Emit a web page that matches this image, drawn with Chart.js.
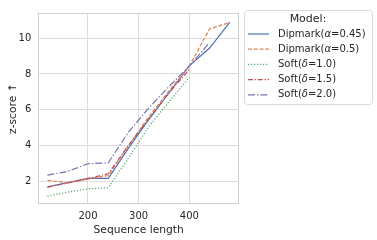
<!DOCTYPE html>
<html>
<head>
<meta charset="utf-8">
<script src="https://cdn.jsdelivr.net/npm/chart.js@4.4.1/dist/chart.umd.min.js"></script>
<style>
  body { margin: 0; background: #fff; }
  #wrap { width: 377px; height: 240px; }
</style>
</head>
<body>
<div id="wrap"><canvas id="chart1" width="377" height="240"></canvas></div>
<script>
// valores
const seqLength = [120, 160, 200, 240, 280, 320, 360, 400, 440, 480];
const dipmark045 = [1.69, 1.92, 2.16, 2.16, 3.85, 5.45, 6.95, 8.45, 9.45, 10.9];
const dipmark05 = [2.05, 1.92, 2.13, 2.32, 4.0, 5.6, 7.05, 8.45, 10.52, 10.88];
const soft10 = [1.17, 1.39, 1.57, 1.64, 3.3, 5.05, 6.45, 7.8];
const soft15 = [1.66, 1.9, 2.15, 2.42, 4.0, 5.5, 6.95, 8.25];
const soft20 = [2.34, 2.55, 2.98, 3.03, 4.75, 6.1, 7.3, 8.45, 9.75];
const seriesNames = ["Dipmark(α=0.45)", "Dipmark(α=0.5)", "Soft(δ=1.0)", "Soft(δ=1.5)", "Soft(δ=2.0)"];
const xTicks = [200, 300, 400];
const yTicks = [2, 4, 6, 8, 10];

const cores = ["#4C72B0", "#DD8452", "#55A868", "#C44E52", "#8172B3"];
const tracos = [[], [4, 1.8], [1.2, 1.8], [5, 1.8, 1.2, 1.8], [7, 2, 1.4, 2]];
const series = [dipmark045, dipmark05, soft10, soft15, soft20];

function pontos(ys) {
    return ys.map((y, i) => ({ x: seqLength[i], y: y }));
}

const datasets = series.map((ys, i) => ({
    label: seriesNames[i],
    data: pontos(ys),
    borderColor: cores[i],
    backgroundColor: cores[i],
    borderDash: tracos[i],
    borderWidth: 1.2,
    pointRadius: 0,
    tension: 0,
    order: 4 - i
}));

const textoCor = "#262626";
const fonte = "'DejaVu Sans', sans-serif";

// moldura do gráfico
const moldura = {
    id: "moldura",
    beforeDatasetsDraw(chart) {
        const a = chart.chartArea;
        const ctx = chart.ctx;
        ctx.save();
        ctx.strokeStyle = "#d0d0d0";
        ctx.lineWidth = 1;
        ctx.strokeRect(Math.round(a.left) + 0.5, Math.round(a.top) + 0.5,
            Math.round(a.right - a.left) - 1, Math.round(a.bottom - a.top) - 1);
        ctx.restore();
    }
};

// legenda desenhada à mão
function textoMisto(ctx, txt, x, y, size) {
    let cx = x;
    for (const ch of txt) {
        const grego = /[αδ]/.test(ch);
        ctx.font = (grego ? "italic " : "") + size + "px " + fonte;
        ctx.fillText(ch, cx, y);
        cx += ctx.measureText(ch).width;
    }
}

const legenda = {
    id: "legenda",
    afterDraw(chart) {
        const ctx = chart.ctx;
        const x0 = 244, y0 = 10, w = 128, h = 94;
        ctx.save();
        ctx.beginPath();
        ctx.roundRect(x0 + 0.5, y0 + 0.5, w, h, 3);
        ctx.fillStyle = "rgba(255,255,255,0.8)";
        ctx.fill();
        ctx.strokeStyle = "#dadada";
        ctx.lineWidth = 1;
        ctx.stroke();

        ctx.fillStyle = textoCor;
        ctx.textBaseline = "middle";
        ctx.textAlign = "center";
        ctx.font = "11px " + fonte;
        ctx.fillText("Model:", x0 + w / 2, 19);

        ctx.textAlign = "left";
        chart.data.datasets.forEach((ds, i) => {
            const y = 34 + i * 15.2;
            ctx.beginPath();
            ctx.setLineDash(ds.borderDash);
            ctx.strokeStyle = ds.borderColor;
            ctx.lineWidth = ds.borderWidth;
            ctx.moveTo(248, y);
            ctx.lineTo(269, y);
            ctx.stroke();
            ctx.setLineDash([]);
            ctx.fillStyle = textoCor;
            textoMisto(ctx, ds.label, 278, y, 10);
        });
        ctx.restore();
    }
};

const ctx1 = document.getElementById("chart1").getContext("2d");
const chart1 = new Chart(ctx1, {
    type: "line",
    data: { datasets: datasets },
    plugins: [moldura, legenda],
    options: {
        responsive: false,
        animation: false,
        layout: { padding: { top: 4.7, right: 138, left: 0, bottom: 0 } },
        plugins: { legend: { display: false }, tooltip: { enabled: false } },
        scales: {
            x: {
                type: "linear",
                min: 102,
                max: 498,
                afterBuildTicks: s => { s.ticks = xTicks.map(v => ({ value: v })); },
                afterFit: s => { s.height = 35.7; },
                grid: { color: "#dcdcdc", lineWidth: 1, drawTicks: false },
                border: { display: false },
                ticks: { color: textoCor, font: { family: fonte, size: 10 }, padding: 6, maxRotation: 0 },
                title: {
                    display: true, text: "Sequence length", color: textoCor,
                    font: { family: fonte, size: 10.7 }, padding: { top: 0, bottom: 3 }
                }
            },
            y: {
                min: 0.71,
                max: 11.41,
                afterBuildTicks: s => { s.ticks = yTicks.map(v => ({ value: v })); },
                afterFit: s => { s.width = 38.3; },
                grid: { color: "#dcdcdc", lineWidth: 1, drawTicks: false },
                border: { display: false },
                ticks: { color: textoCor, font: { family: fonte, size: 10 }, padding: 7 },
                title: {
                    display: true, text: "z-score ↑", color: textoCor,
                    font: { family: fonte, size: 10.7 }, padding: { top: 6.5, bottom: 0 }
                }
            }
        }
    }
});
</script>
</body>
</html>
